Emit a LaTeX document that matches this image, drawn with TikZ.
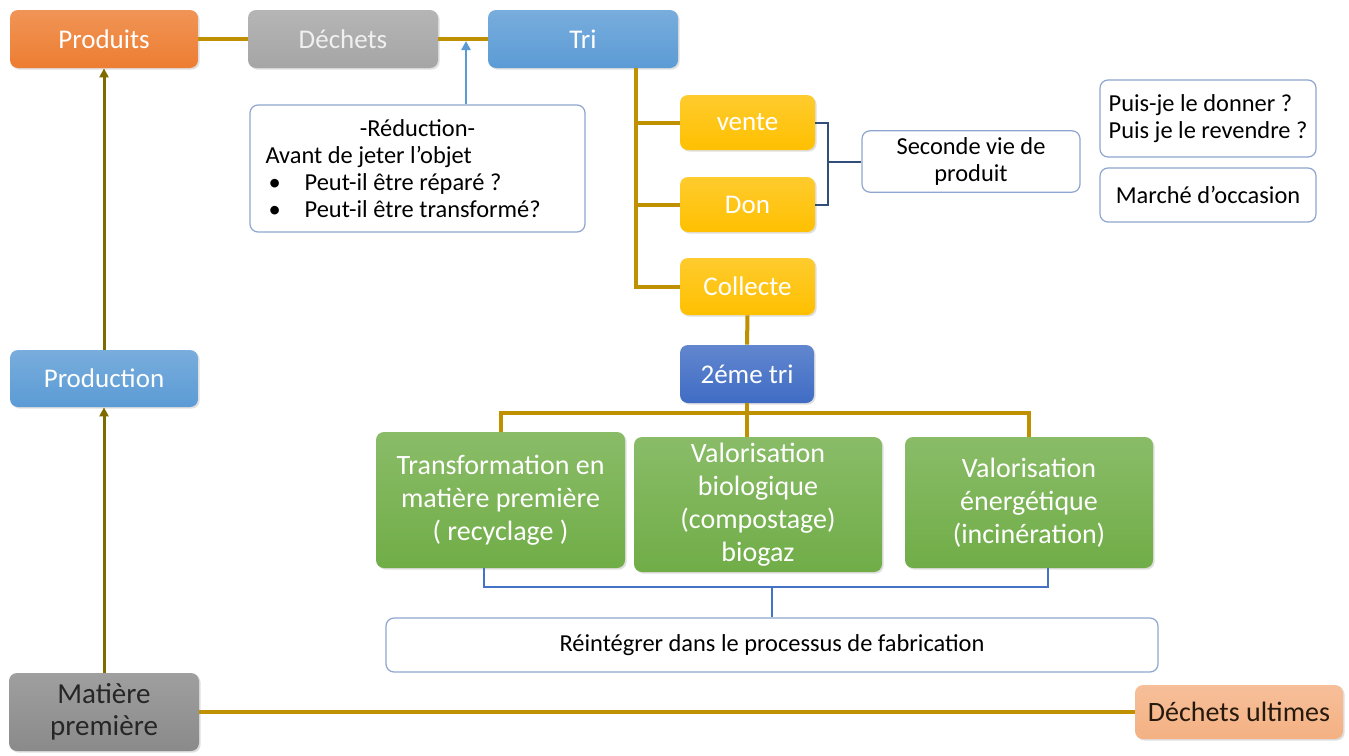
\documentclass[tikz,border=0pt]{standalone}
\usepackage{fontspec}
\setmainfont{Carlito}
\usetikzlibrary{arrows.meta,shadows}
\definecolor{cOrange}{HTML}{ED7D31}
\definecolor{cGray}{HTML}{A5A5A5}
\definecolor{cBlue}{HTML}{5B9BD5}
\definecolor{cGold}{HTML}{FFC000}
\definecolor{cDBlue}{HTML}{3F6CC4}
\definecolor{cGreen}{HTML}{70AD47}
\definecolor{cMGray}{HTML}{8A8A8A}
\definecolor{cSalmon}{HTML}{F4B183}
\definecolor{cLine}{HTML}{BF9000}
\definecolor{cArrow}{HTML}{7F6A00}
\definecolor{cNote}{HTML}{8EA6CF}
\definecolor{cNavy}{HTML}{2F4E7A}
\definecolor{cBrk}{HTML}{4472C4}
\tikzset{
  fillc/.style={top color=#1!82!white, bottom color=#1, draw=none},
  base/.style={rounded corners=4pt, inner sep=2pt, align=center,
    drop shadow={shadow xshift=0.8pt, shadow yshift=-0.8pt, opacity=0.25}},
  hdr/.style={base, text=white, font=\fontsize{13.5}{16}\selectfont},
  greenbox/.style={base, fillc=cGreen, text=white, font=\fontsize{14}{16.5}\selectfont},
  note/.style={rounded corners=4pt, draw=cNote, line width=0.6pt, fill=white, align=center, font=\fontsize{12.2}{13.6}\selectfont},
  goldline/.style={draw=cLine, line width=2pt},
  arr/.style={draw=cArrow, line width=1.5pt, -{Triangle[length=4.5pt,width=4.5pt]}},
  barr/.style={draw=cBlue, line width=1.4pt, -{Triangle[length=4.5pt,width=4.5pt]}},
  navyline/.style={draw=cNavy, line width=1pt},
  brkline/.style={draw=cBrk, line width=1.2pt},
}
\begin{document}
\begin{tikzpicture}[x=0.5pt,y=-0.5pt]
\fill[white] (0,0) rectangle (1349,755);
\useasboundingbox (0,0) rectangle (1349,755);

% top row
\node[hdr, fillc=cOrange, minimum width=94pt, minimum height=29pt] (produits) at (104,39) {Produits};
\node[hdr, fillc=cGray, text=gray!12, minimum width=95pt, minimum height=29pt] (dechets) at (343,39) {Déchets};
\node[hdr, fillc=cBlue, minimum width=95pt, minimum height=29pt] (tri) at (583,39) {Tri};

% reduction note
\node[note, minimum width=167.5pt, minimum height=63.5pt, inner sep=0pt] (red) at (417.5,168.5)
 {\begin{minipage}{152pt}\centering -Réduction-\par\raggedright Avant de jeter l’objet\par
  \hspace*{1.5pt}\textbullet\hspace{12pt}Peut-il être réparé ?\par
  \hspace*{1.5pt}\textbullet\hspace{12pt}Peut-il être transformé?\end{minipage}};

% tri branches
\node[hdr, fillc=cGold, minimum width=67.5pt, minimum height=27.5pt] (vente) at (747.5,122.5) {vente};
\node[hdr, fillc=cGold, minimum width=67.5pt, minimum height=27.5pt] (don) at (747.5,204.5) {Don};
\node[hdr, fillc=cGold, minimum width=67.5pt, minimum height=28.5pt] (collecte) at (747.5,286.5) {Collecte};

% notes on the right
\node[note, minimum width=109pt, minimum height=26.5pt] (seconde) at (971,161.5) {Seconde vie de\\produit};
\node[note, minimum width=108pt, minimum height=38.5pt, align=left] (puis) at (1208,118.5) {Puis-je le donner ?\\Puis je le revendre ?};
\node[note, minimum width=108pt, minimum height=27pt] (marche) at (1208,195) {Marché d’occasion};

% second sort
\node[hdr, fillc=cDBlue, minimum width=67pt, minimum height=29pt] (tri2) at (747,374) {2éme tri};

% green boxes
\node[greenbox, minimum width=124.5pt, minimum height=68pt] (transf) at (500.5,500) {Transformation en\\matière première\\( recyclage )};
\node[greenbox, minimum width=124pt, minimum height=67.5pt] (bio) at (758,504.5) {Valorisation\\biologique\\(compostage)\\biogaz};
\node[greenbox, minimum width=124pt, minimum height=65.5pt] (energ) at (1029,502.5) {Valorisation\\énergétique\\(incinération)};

\node[note, minimum width=386pt, minimum height=27pt] (reint) at (772,645) {Réintégrer dans le processus de fabrication};

% left column
\node[hdr, fillc=cBlue, minimum width=94pt, minimum height=28.5pt] (production) at (104,378.5) {Production};
\node[hdr, fillc=cMGray, text=black!85, font=\fontsize{14.5}{16}\selectfont, minimum width=95pt, minimum height=39pt] (matiere) at (104,712) {Matière\\première};
\node[hdr, fillc=cSalmon, text=black!80!brown, font=\fontsize{14}{16}\selectfont, minimum width=104pt, minimum height=27pt] (ultimes) at (1239,712) {Déchets ultimes};

% helper coordinates
\coordinate (m) at (466,41);
\coordinate (tv) at (636,0);
\coordinate (br) at (828,0);
\coordinate (hb) at (0,413);
\coordinate (bl) at (484,587);
\coordinate (bR) at (1048,587);

% connectors
\draw[goldline] (produits) -- (dechets);
\draw[goldline] (dechets) -- (tri);
\draw[barr] (red.north -| m) -- (m);
\draw[goldline] (tri.south -| tv) |- (collecte.west);
\draw[goldline] (tri.south -| tv) |- (vente.west);
\draw[goldline] (tri.south -| tv) |- (don.west);
\draw[navyline] (vente.east) -| (don.east -| br) -- (don.east);
\draw[navyline] (seconde.west) -- (seconde.west -| br);
\draw[goldline] (collecte.south) -- (tri2.north);
\draw[goldline] (transf.north) |- (energ.north |- hb) -- (energ.north);
\draw[goldline] (tri2.south) -- (tri2.south |- bio.north);
\draw[brkline] (transf.south -| bl) -- (bl) -- (bR) -- (energ.south -| bR);
\draw[brkline] (reint.north) -- (reint.north |- bl);
\draw[arr] (matiere.north) -- (production.south);
\draw[arr] (production.north) -- (produits.south);
\draw[goldline] (matiere.east) -- (ultimes.west);
\end{tikzpicture}
\end{document}
